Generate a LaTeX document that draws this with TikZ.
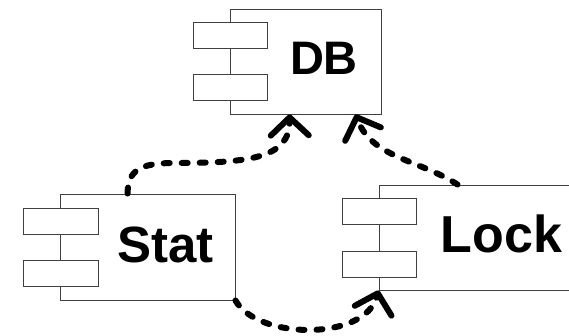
\documentclass[tikz,border=0pt]{standalone}
\usepackage{fontspec}
\setmainfont{Liberation Sans}
\usetikzlibrary{arrows.meta}

\tikzset{
  part/.style={draw=black!75, line width=0.9pt, fill=white, rectangle, inner sep=0pt},
  port/.style={part, minimum width=74pt, minimum height=26pt},
  nametext/.style={inner sep=0pt, anchor=base, font=\bfseries},
  link/.style={line width=6pt, dash pattern=on 6pt off 12pt, line cap=round,
    -{Straight Barb[length=18pt, width=38pt, line cap=round, line join=round]}}
}

\begin{document}
\begin{tikzpicture}[x=1pt, y=-1pt]
  \clip (0,0) rectangle (569,336);

  % DB component
  \node[part, minimum width=151pt, minimum height=105pt] (db) at (305.5,61.5) {};
  \node[port] (dbp1) at (230,35) {};
  \node[port] (dbp2) at (230,87) {};
  \node[nametext, font=\fontsize{47}{47}\selectfont\bfseries] (dbname) at (324,75) {DB};

  % Stat component
  \node[part, minimum width=175pt, minimum height=106pt] (stat) at (147.5,247) {};
  \node[port, minimum width=75pt] (statp1) at (60.5,221) {};
  \node[port, minimum width=75pt] (statp2) at (60.5,273.5) {};
  \node[nametext, font=\fontsize{51}{51}\selectfont\bfseries] (statname) at (165.5,262) {Stat};

  % Lock component (runs past the right edge)
  \node[part, minimum width=221pt, minimum height=105pt] (lock) at (489.5,237.5) {};
  \node[port] (lockp1) at (379,211) {};
  \node[port] (lockp2) at (379,264) {};
  \node[nametext, font=\fontsize{52}{52}\selectfont\bfseries] (lockname) at (501.5,252) {Lock};

  % dependencies
  \draw[link] ([xshift=68pt]stat.north west)
      .. controls (128,170) and (140,163) .. (175,163)
      .. controls (250,163) and (290,158) .. ([xshift=60pt]db.south west);
  \draw[link] ([xshift=79pt]lock.north west)
      .. controls (420,160) and (372,158) .. ([xshift=126pt]db.south west);
  \draw[link] (stat.south east)
      .. controls (258,340) and (365,341) .. (lock.south west);
\end{tikzpicture}
\end{document}
